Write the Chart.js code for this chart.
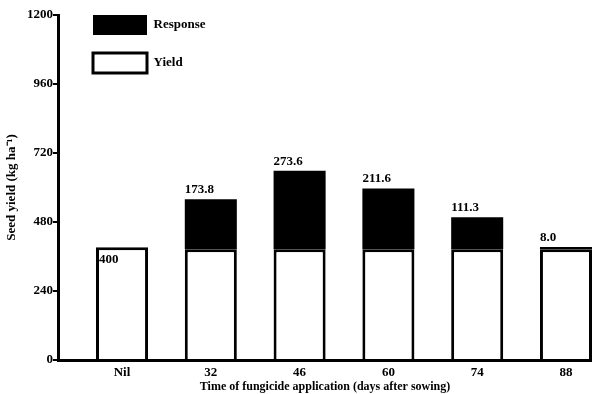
<!DOCTYPE html>
<html>
<head>
<meta charset="utf-8">
<script src="https://cdn.jsdelivr.net/npm/chart.js@4/dist/chart.umd.min.js"></script>
<style>
  body { margin: 0; background: #fff; }
</style>
</head>
<body>
<canvas id="yieldChart" width="592" height="394"></canvas>
<script>
// data
const categories = ['Nil', '32', '46', '60', '74', '88'];
const yields = [392, 385, 385, 385, 385, 385];
const responses = [null, 173.8, 273.6, 211.6, 111.3, 8.0];
const barLabels = ['400', '173.8', '273.6', '211.6', '111.3', '8.0'];
const yTicks = [0, 240, 480, 720, 960, 1200];

const serif = '"Liberation Serif", "Times New Roman", serif';

// value labels: left-aligned with the bar, Nil one sits inside the bar
const barLabelPlugin = {
  id: 'barLabels',
  afterDatasetsDraw(chart) {
    const ctx = chart.ctx;
    const yieldMeta = chart.getDatasetMeta(0);
    const respMeta = chart.getDatasetMeta(1);
    ctx.save();
    ctx.font = 'bold 13px ' + serif;
    ctx.fillStyle = '#000';
    ctx.textAlign = 'left';
    barLabels.forEach((txt, i) => {
      if (responses[i] == null) {
        const el = yieldMeta.data[i];
        ctx.textBaseline = 'top';
        ctx.fillText(txt, el.x - el.width / 2 + 3, el.y + 6);
      } else {
        const el = respMeta.data[i];
        ctx.textBaseline = 'alphabetic';
        ctx.fillText(txt, el.x - el.width / 2, el.y - 6);
      }
    });
    ctx.restore();
  }
};

// move the legend to the upper left corner of the plot
const legendPlace = {
  id: 'legendPlace',
  afterLayout(chart) {
    const ca = chart.chartArea;
    chart.legend.left = ca.left + 17;
    chart.legend.top = ca.top - 18;
  }
};

const ctx = document.getElementById('yieldChart').getContext('2d');
const chart = new Chart(ctx, {
  type: 'bar',
  data: {
    datasets: [
      {
        label: 'Yield',
        data: yields.map((v, i) => ({ x: i, y: v })),
        backgroundColor: '#fff',
        borderColor: '#000',
        borderWidth: 3
      },
      {
        label: 'Response',
        data: responses.map((v, i) => ({ x: i, y: v })),
        backgroundColor: '#000',
        borderWidth: 0
      }
    ]
  },
  options: {
    responsive: false,
    animation: false,
    devicePixelRatio: 1,
    barPercentage: 0.586,
    categoryPercentage: 1,
    layout: { padding: { top: 15, right: 0, left: 0, bottom: 0 } },
    plugins: {
      tooltip: { enabled: false },
      legend: {
        position: 'chartArea',
        align: 'start',
        reverse: true,
        labels: {
          boxWidth: 54,
          boxHeight: 20,
          padding: 18,
          color: '#000',
          font: { family: serif, size: 13, weight: 'bold' }
        }
      }
    },
    scales: {
      x: {
        type: 'linear',
        stacked: true,
        offset: false,
        min: -0.721,
        max: 5.293,
        afterBuildTicks: (scale) => {
          scale.ticks = categories.map((c, i) => ({ value: i }));
        },
        afterFit: (scale) => { scale.height = 34; },
        grid: { drawOnChartArea: false, drawTicks: false },
        border: { display: true, color: '#000', width: 3 },
        ticks: {
          padding: 5,
          color: '#000',
          font: { family: serif, size: 13, weight: 'bold' },
          callback: (v) => categories[v]
        },
        title: {
          display: true,
          text: 'Time of fungicide application (days after sowing)',
          color: '#000',
          padding: { top: 1, bottom: 0 },
          font: { family: serif, size: 12, weight: 'bold' }
        }
      },
      y: {
        stacked: true,
        min: 0,
        max: 1200,
        afterBuildTicks: (scale) => {
          scale.ticks = yTicks.map(v => ({ value: v }));
        },
        afterFit: (scale) => { scale.width = 58; },
        grid: {
          drawOnChartArea: false,
          drawTicks: true,
          tickLength: 5,
          color: '#000',
          lineWidth: 2
        },
        border: { display: true, color: '#000', width: 3 },
        ticks: {
          padding: 0,
          color: '#000',
          font: { family: serif, size: 13, weight: 'bold' },
          callback: (v) => String(v)
        },
        title: {
          display: true,
          text: 'Seed yield (kg ha\u207B\u00B9)',
          color: '#000',
          padding: { top: 4, bottom: 0 },
          font: { family: serif, size: 13, weight: 'bold' }
        }
      }
    }
  },
  plugins: [barLabelPlugin, legendPlace]
});
</script>
</body>
</html>
